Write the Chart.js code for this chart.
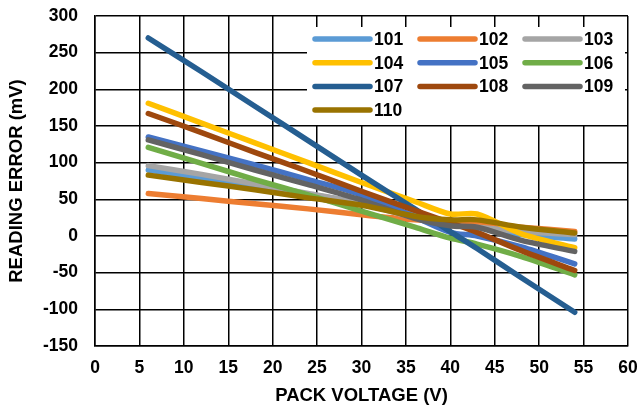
<!DOCTYPE html>
<html>
<head>
<meta charset="utf-8">
<script src="https://cdn.jsdelivr.net/npm/chart.js@4.4.1/dist/chart.umd.min.js"></script>
<style>
  html, body { margin: 0; padding: 0; background: #ffffff; }
  #wrap { width: 638px; height: 408px; }
</style>
</head>
<body>
<div id="wrap"><canvas id="chart" width="638" height="408"></canvas></div>
<script>
// Pack voltage (V) at which each cell reading was taken
const voltages = [6, 12, 18, 24, 30, 36, 40, 43, 48, 54];

// Reading error (mV) per cell channel
const cell101 = [90, 79, 68, 57, 45, 29, 18, 14, 2, -4];
const cell102 = [58, 51, 44, 37, 29, 22, 19, 16, 12, 6];
const cell103 = [96, 84, 71, 58, 44, 25, 14, 12, 6, 2];
const cell104 = [181, 154, 127, 100, 73, 47, 30, 30, 3, -16];
const cell105 = [135, 116, 97, 77, 56, 26, 5, 0, -15, -38];
const cell106 = [121, 99, 77, 56, 34, 12, -3, -11, -28, -53];
const cell107 = [270, 224, 177, 130, 83, 37, 6, -17, -57, -104];
const cell108 = [167, 141, 114, 88, 61, 35, 18, 5, -20, -47];
const cell109 = [131, 111, 90, 70, 49, 24, 14, 12, -6, -21];
const cell110 = [83, 73, 63, 52, 42, 27, 22, 22, 12, 4];

const seriesNames = ['101', '102', '103', '104', '105', '106', '107', '108', '109', '110'];
const seriesValues = [cell101, cell102, cell103, cell104, cell105, cell106, cell107, cell108, cell109, cell110];
const seriesColors = ['#5B9BD5', '#ED7D31', '#A5A5A5', '#FFC000', '#4472C4',
                      '#70AD47', '#255E91', '#9E480E', '#636363', '#997300'];

// Axis tick labels
const xTickValues = [0, 5, 10, 15, 20, 25, 30, 35, 40, 45, 50, 55, 60];
const yTickValues = [-150, -100, -50, 0, 50, 100, 150, 200, 250, 300];

const FONT = "'Liberation Sans', Arial, Helvetica, sans-serif";
Chart.defaults.font.family = FONT;
Chart.defaults.font.weight = 'bold';
Chart.defaults.font.size = 17.5;
Chart.defaults.color = '#000000';

const datasets = seriesNames.map((name, i) => ({
  label: name,
  data: voltages.map((v, k) => ({ x: v, y: seriesValues[i][k] })),
  borderColor: seriesColors[i],
  backgroundColor: seriesColors[i],
  borderWidth: 5.5,
  borderCapStyle: 'round',
  borderJoinStyle: 'round',
  pointRadius: 0,
  pointHoverRadius: 0,
  tension: 0.3,
  fill: false,
  // later channels are painted over earlier ones
  order: seriesNames.length - i
}));

// Three-column legend boxed inside the upper right of the plot area
const insetLegend = {
  id: 'insetLegend',
  afterDatasetsDraw(chart) {
    const ctx = chart.ctx;
    const area = chart.chartArea;
    const boxLeft = area.right - 321;
    const boxTop = area.top + 11;
    ctx.save();
    ctx.fillStyle = '#ffffff';
    ctx.fillRect(boxLeft, boxTop, 318, 98);
    ctx.font = 'bold 17.5px ' + FONT;
    ctx.textBaseline = 'middle';
    ctx.textAlign = 'left';
    chart.data.datasets.forEach((ds, i) => {
      const col = i % 3;
      const row = Math.floor(i / 3);
      const sx = boxLeft + 8 + col * 105;
      const sy = boxTop + 12 + row * 23.7;
      ctx.strokeStyle = ds.borderColor;
      ctx.lineWidth = 5.5;
      ctx.lineCap = 'round';
      ctx.beginPath();
      ctx.moveTo(sx, sy);
      ctx.lineTo(sx + 55, sy);
      ctx.stroke();
      ctx.fillStyle = '#000000';
      ctx.fillText(ds.label, sx + 59, sy + 1);
    });
    ctx.restore();
  }
};

new Chart(document.getElementById('chart'), {
  type: 'line',
  data: { datasets },
  plugins: [insetLegend],
  options: {
    responsive: false,
    animation: false,
    devicePixelRatio: 1,
    layout: { padding: { top: 16, right: 10, left: 0, bottom: 0 } },
    plugins: {
      legend: { display: false },
      tooltip: { enabled: false }
    },
    scales: {
      x: {
        type: 'linear',
        min: 0,
        max: 60,
        afterBuildTicks: (scale) => { scale.ticks = xTickValues.map(value => ({ value })); },
        afterFit: (scale) => {
          scale.height = 62;
          scale.paddingLeft = 0;
          scale.paddingRight = 0;
        },
        grid: { color: '#000000', lineWidth: 1.5, drawTicks: false },
        border: { display: true, color: '#000000', width: 1.5 },
        ticks: { padding: 12, maxRotation: 0, autoSkip: false, font: { size: 17.5, weight: 'bold' } },
        title: {
          display: true,
          text: 'PACK VOLTAGE (V)',
          font: { size: 18.5, weight: 'bold' },
          padding: { top: 0, bottom: 1 }
        }
      },
      y: {
        type: 'linear',
        min: -150,
        max: 300,
        afterBuildTicks: (scale) => { scale.ticks = yTickValues.map(value => ({ value })); },
        afterFit: (scale) => {
          scale.width = 95;
          scale.paddingTop = 0;
          scale.paddingBottom = 0;
        },
        grid: { color: '#000000', lineWidth: 1.5, drawTicks: false },
        border: { display: true, color: '#000000', width: 1.5 },
        ticks: { padding: 17, font: { size: 17.5, weight: 'bold' } },
        title: {
          display: true,
          text: 'READING ERROR (mV)',
          font: { size: 18.5, weight: 'bold' },
          padding: { top: 6, bottom: 0 }
        }
      }
    }
  }
});
</script>
</body>
</html>
